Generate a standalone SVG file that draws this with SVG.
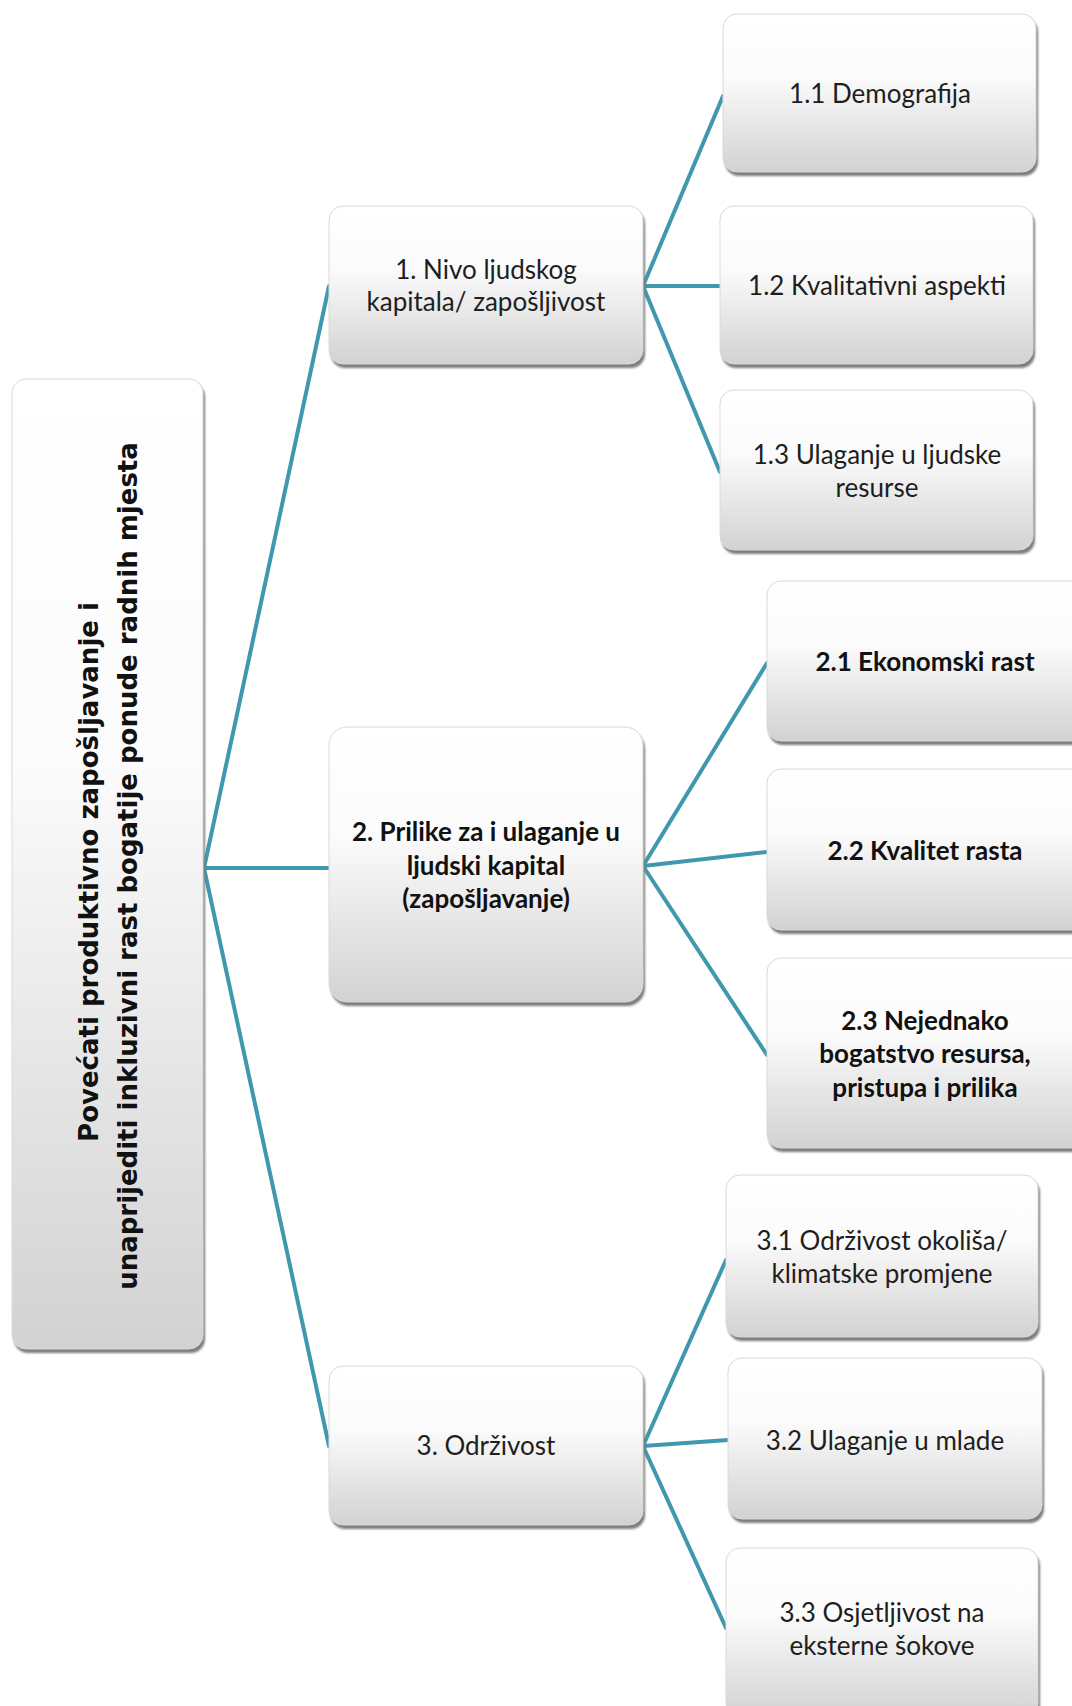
<svg xmlns="http://www.w3.org/2000/svg" width="1072" height="1706" viewBox="0 0 1072 1706">
<style>
.box{fill:url(#g);stroke:#d9d9d9;stroke-width:1}
.rbox{fill:url(#g);stroke:#d9d9d9;stroke-width:1}
.sh{fill:#7d7d7d;filter:url(#blur)}
.t{font-family:Lato,"Open Sans","Liberation Sans",sans-serif;font-size:26px;fill:#1e1e1e;text-anchor:middle}
.b{font-weight:bold;fill:#111}
.rt{font-family:"DejaVu Sans","Liberation Sans",sans-serif;font-weight:bold;font-size:26px;fill:#111;text-anchor:middle}
.c{stroke:#3f98ae;stroke-width:4;fill:none;stroke-linecap:round}
</style>
<defs>
<linearGradient id="g" x1="0" y1="0" x2="0" y2="1">
<stop offset="0" stop-color="#ffffff"/>
<stop offset="0.4" stop-color="#fbfbfb"/>
<stop offset="1" stop-color="#d2d2d2"/>
</linearGradient>
<filter id="blur" x="-5%" y="-5%" width="110%" height="110%"><feGaussianBlur stdDeviation="1"/></filter>
</defs>
<rect width="1072" height="1706" fill="#ffffff"/>
<g id="connectors">
<line class="c" x1="204" y1="868" x2="329" y2="286"/>
<line class="c" x1="204" y1="868" x2="329" y2="868"/>
<line class="c" x1="204" y1="868" x2="329" y2="1446"/>
<line class="c" x1="643" y1="286" x2="723" y2="96"/>
<line class="c" x1="643" y1="286" x2="720" y2="286"/>
<line class="c" x1="643" y1="286" x2="720" y2="472"/>
<line class="c" x1="643" y1="866" x2="767" y2="663"/>
<line class="c" x1="643" y1="866" x2="767" y2="852"/>
<line class="c" x1="643" y1="866" x2="767" y2="1055"/>
<line class="c" x1="643" y1="1446" x2="726" y2="1260"/>
<line class="c" x1="643" y1="1446" x2="728" y2="1440"/>
<line class="c" x1="643" y1="1446" x2="726" y2="1628"/>
</g>
<g id="root">
<rect class="sh" x="14" y="383" width="191" height="970" rx="14"/>
<rect class="rbox" x="12" y="379" width="191" height="970" rx="14"/>
<text class="rt" transform="translate(98,872) rotate(-90)">Povećati produktivno zapošljavanje i</text>
<text class="rt" transform="translate(137,866) rotate(-90)">unaprijediti inkluzivni rast bogatije ponude radnih mjesta</text>
</g>
<g id="n1">
<rect class="sh" x="331" y="210" width="314" height="158" rx="14"/>
<rect class="box" x="329" y="206" width="314" height="158" rx="14"/>
<text class="t" x="486" y="279">1. Nivo ljudskog</text>
<text class="t" x="486" y="311">kapitala/ zapošljivost</text>
</g>
<g id="n11">
<rect class="sh" x="725" y="18" width="313" height="158" rx="14"/>
<rect class="box" x="723" y="14" width="313" height="158" rx="14"/>
<text class="t" x="880" y="103">1.1 Demografija</text>
</g>
<g id="n12">
<rect class="sh" x="722" y="210" width="313" height="158" rx="14"/>
<rect class="box" x="720" y="206" width="313" height="158" rx="14"/>
<text class="t" x="877" y="295">1.2 Kvalitativni aspekti</text>
</g>
<g id="n13">
<rect class="sh" x="722" y="394" width="313" height="160" rx="14"/>
<rect class="box" x="720" y="390" width="313" height="160" rx="14"/>
<text class="t" x="877" y="464">1.3 Ulaganje u ljudske</text>
<text class="t" x="877" y="497">resurse</text>
</g>
<g id="n2">
<rect class="sh" x="331" y="731" width="314" height="275" rx="18"/>
<rect class="box" x="329" y="727" width="314" height="275" rx="18"/>
<text class="t b" x="486" y="841">2. Prilike za i ulaganje u</text>
<text class="t b" x="486" y="875">ljudski kapital</text>
<text class="t b" x="486" y="908">(zapošljavanje)</text>
</g>
<g id="n21">
<rect class="sh" x="769" y="585" width="320" height="160" rx="14"/>
<rect class="box" x="767" y="581" width="320" height="160" rx="14"/>
<text class="t b" x="925" y="671">2.1 Ekonomski rast</text>
</g>
<g id="n22">
<rect class="sh" x="769" y="773" width="320" height="161" rx="14"/>
<rect class="box" x="767" y="769" width="320" height="161" rx="14"/>
<text class="t b" x="925" y="860">2.2 Kvalitet rasta</text>
</g>
<g id="n23">
<rect class="sh" x="769" y="962" width="320" height="190" rx="14"/>
<rect class="box" x="767" y="958" width="320" height="190" rx="14"/>
<text class="t b" x="925" y="1030">2.3 Nejednako</text>
<text class="t b" x="925" y="1063">bogatstvo resursa,</text>
<text class="t b" x="925" y="1097">pristupa i prilika</text>
</g>
<g id="n3">
<rect class="sh" x="331" y="1370" width="314" height="159" rx="14"/>
<rect class="box" x="329" y="1366" width="314" height="159" rx="14"/>
<text class="t" x="486" y="1455">3. Održivost</text>
</g>
<g id="n31">
<rect class="sh" x="728" y="1179" width="312" height="162" rx="14"/>
<rect class="box" x="726" y="1175" width="312" height="162" rx="14"/>
<text class="t" x="882" y="1250">3.1 Održivost okoliša/</text>
<text class="t" x="882" y="1283">klimatske promjene</text>
</g>
<g id="n32">
<rect class="sh" x="730" y="1362" width="314" height="161" rx="14"/>
<rect class="box" x="728" y="1358" width="314" height="161" rx="14"/>
<text class="t" x="885" y="1450">3.2 Ulaganje u mlade</text>
</g>
<g id="n33">
<rect class="sh" x="728" y="1552" width="312" height="170" rx="14"/>
<rect class="box" x="726" y="1548" width="312" height="170" rx="14"/>
<text class="t" x="882" y="1622">3.3 Osjetljivost na</text>
<text class="t" x="882" y="1655">eksterne šokove</text>
</g>
</svg>
